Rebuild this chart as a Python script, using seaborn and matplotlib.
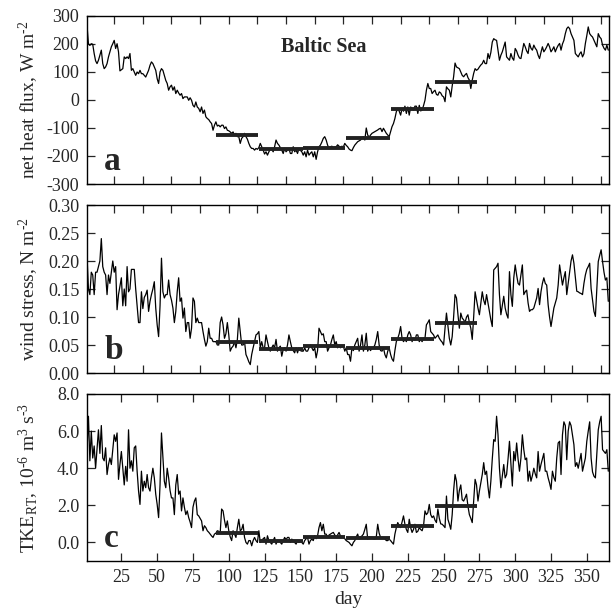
import numpy as np
import pandas as pd
import matplotlib
matplotlib.use("Agg")
import matplotlib.pyplot as plt
import seaborn as sns

# ---------------- data ----------------
days = list(range(1, 366))

heat_flux = [
    267, 201, 195, 201, 199, 166, 140, 130, 142, 160,
    178, 130, 112, 118, 130, 154, 172, 190, 201, 213,
    184, 201, 172, 104, 108, 112, 154, 148, 154, 148,
    166, 106, 112, 100, 88, 100, 94, 106, 94, 94,
    88, 82, 94, 106, 124, 136, 130, 118, 106, 76,
    59, 100, 112, 106, 88, 70, 59, 35, 47, 53,
    35, 47, 23, 35, 25, 17, 23, 5, 11, 11,
    11, -1, 8, -1, -19, -25, -7, -25, -30, -42,
    -25, -48, -36, -60, -66, -70, -78, -84, -108, -90,
    -78, -93, -90, -96, -90, -90, -102, -96, -108, -110,
    -114, -119, -114, -125, -119, -131, -131, -155, -137, -131,
    -119, -131, -140, -155, -167, -173, -173, -179, -173, -176,
    -170, -155, -167, -179, -193, -185, -197, -185, -176, -176,
    -185, -167, -143, -155, -161, -170, -179, -191, -173, -185,
    -179, -173, -191, -191, -167, -185, -179, -191, -173, -180,
    -185, -197, -185, -203, -179, -197, -190, -185, -203, -185,
    -212, -185, -167, -161, -150, -137, -131, -143, -161, -173,
    -167, -165, -170, -168, -167, -160, -165, -170, -165, -168,
    -155, -162, -167, -175, -179, -181, -170, -161, -155, -149,
    -146, -143, -135, -131, -143, -100, -125, -133, -125, -119,
    -116, -113, -110, -107, -103, -101, -113, -101, -110, -119,
    -125, -131, -113, -95, -84, -66, -42, -30, -40, -54,
    -30, -40, -22, -48, -25, -54, -25, -30, -36, -22,
    -22, -48, -19, -39, -36, -20, -1, 35, 59, 41,
    41, 23, 30, 35, 20, 17, 29, 25, 15, 11,
    -6, 47, 40, 35, 11, 50, 83, 132, 118, 115,
    112, 100, 88, 83, 90, 95, 80, 71, 41, 71,
    95, 112, 106, 110, 118, 125, 130, 142, 130, 130,
    166, 148, 170, 207, 219, 215, 213, 178, 142, 160,
    172, 190, 207, 154, 148, 142, 166, 150, 142, 184,
    175, 160, 150, 148, 175, 202, 190, 175, 166, 202,
    185, 178, 196, 185, 178, 160, 148, 170, 190, 172,
    180, 190, 202, 190, 172, 180, 190, 172, 185, 195,
    202, 178, 200, 213, 237, 255, 261, 255, 237, 225,
    213, 166, 160, 154, 165, 172, 154, 165, 202, 230,
    261, 237, 230, 225, 213, 200, 190, 237, 225, 219,
    196, 185, 178, 196, 178,
]

wind_stress = [
    0.21, 0.15, 0.14, 0.18, 0.175, 0.14, 0.18, 0.18, 0.19, 0.20,
    0.24, 0.19, 0.18, 0.175, 0.14, 0.175, 0.16, 0.18, 0.20, 0.18,
    0.19, 0.113, 0.14, 0.155, 0.17, 0.12, 0.15, 0.12, 0.19, 0.145,
    0.15, 0.185, 0.185, 0.185, 0.15, 0.12, 0.09, 0.09, 0.145, 0.115,
    0.135, 0.14, 0.148, 0.11, 0.128, 0.14, 0.15, 0.163, 0.116, 0.086,
    0.065, 0.12, 0.205, 0.145, 0.134, 0.14, 0.14, 0.166, 0.14, 0.13,
    0.116, 0.09, 0.11, 0.145, 0.17, 0.128, 0.134, 0.098, 0.116, 0.074,
    0.09, 0.09, 0.062, 0.08, 0.134, 0.128, 0.09, 0.098, 0.09, 0.09,
    0.09, 0.074, 0.06, 0.048, 0.056, 0.08, 0.062, 0.062, 0.056, 0.056,
    0.056, 0.05, 0.05, 0.09, 0.10, 0.086, 0.062, 0.07, 0.09, 0.068,
    0.039, 0.045, 0.048, 0.056, 0.045, 0.06, 0.098, 0.074, 0.05, 0.05,
    0.056, 0.033, 0.027, 0.02, 0.015, 0.033, 0.045, 0.056, 0.068, 0.07,
    0.074, 0.045, 0.056, 0.045, 0.045, 0.068, 0.056, 0.045, 0.039, 0.045,
    0.05, 0.045, 0.06, 0.039, 0.045, 0.048, 0.03, 0.042, 0.045, 0.039,
    0.05, 0.068, 0.056, 0.045, 0.04, 0.036, 0.045, 0.036, 0.045, 0.04,
    0.039, 0.039, 0.045, 0.039, 0.039, 0.045, 0.05, 0.045, 0.04, 0.045,
    0.027, 0.04, 0.08, 0.074, 0.068, 0.07, 0.056, 0.056, 0.039, 0.045,
    0.05, 0.06, 0.068, 0.05, 0.056, 0.045, 0.05, 0.045, 0.048, 0.048,
    0.039, 0.045, 0.033, 0.033, 0.021, 0.045, 0.04, 0.05, 0.056, 0.062,
    0.039, 0.05, 0.068, 0.039, 0.05, 0.071, 0.039, 0.045, 0.04, 0.045,
    0.045, 0.05, 0.06, 0.074, 0.05, 0.04, 0.039, 0.045, 0.033, 0.027,
    0.039, 0.045, 0.033, 0.025, 0.021, 0.04, 0.056, 0.062, 0.07, 0.083,
    0.062, 0.056, 0.06, 0.056, 0.068, 0.074, 0.068, 0.056, 0.062, 0.058,
    0.068, 0.068, 0.056, 0.06, 0.056, 0.062, 0.062, 0.086, 0.09, 0.095,
    0.074, 0.071, 0.068, 0.062, 0.065, 0.068, 0.062, 0.058, 0.055, 0.05,
    0.08, 0.107, 0.085, 0.062, 0.05, 0.065, 0.1, 0.14, 0.134, 0.105,
    0.08, 0.107, 0.098, 0.095, 0.09, 0.1, 0.104, 0.09, 0.08, 0.06,
    0.1, 0.145, 0.13, 0.116, 0.104, 0.125, 0.145, 0.13, 0.122, 0.14,
    0.125, 0.11, 0.095, 0.083, 0.184, 0.187, 0.19, 0.196, 0.14, 0.104,
    0.12, 0.137, 0.116, 0.105, 0.098, 0.181, 0.14, 0.119, 0.17, 0.193,
    0.175, 0.16, 0.157, 0.175, 0.193, 0.14, 0.145, 0.148, 0.125, 0.11,
    0.113, 0.113, 0.116, 0.125, 0.134, 0.151, 0.122, 0.145, 0.16, 0.17,
    0.16, 0.157, 0.122, 0.1, 0.083, 0.1, 0.116, 0.125, 0.134, 0.157,
    0.193, 0.175, 0.157, 0.17, 0.181, 0.14, 0.16, 0.181, 0.2, 0.211,
    0.196, 0.17, 0.146, 0.145, 0.143, 0.142, 0.14, 0.16, 0.175, 0.185,
    0.19, 0.196, 0.151, 0.13, 0.11, 0.101, 0.15, 0.199, 0.21, 0.22,
    0.199, 0.18, 0.166, 0.17, 0.128,
]

tke = [
    4.9, 6.8, 4.4, 6.0, 4.55, 5.2, 4.0, 5.0, 6.07, 4.8,
    6.3, 4.55, 4.4, 5.1, 3.66, 4.2, 4.55, 4.2, 5.0, 5.8,
    5.45, 5.9, 3.4, 4.2, 4.9, 4.0, 3.1, 4.1, 3.3, 6.07,
    4.0, 4.4, 3.84, 5.1, 5.2, 3.84, 2.77, 2.05, 3.84, 2.77,
    3.3, 2.95, 3.66, 2.95, 2.77, 3.48, 4.0, 3.48, 2.6, 2.05,
    1.34, 3.1, 5.9, 4.55, 3.3, 2.95, 4.0, 3.48, 2.8, 2.4,
    2.4, 1.5, 3.1, 3.66, 2.6, 2.77, 1.7, 2.4, 1.9, 1.5,
    1.7, 1.34, 1.1, 0.8, 1.9, 2.23, 2.4, 1.5, 1.43, 1.3,
    1.16, 0.63, 0.9, 0.8, 0.63, 0.55, 0.45, 0.35, 0.27, 0.45,
    0.5, 0.63, 0.6, 0.5, 1.8, 1.7, 1.2, 0.8, 1.16, 0.63,
    0.3, 0.1, 0.63, 0.45, 0.27, 0.8, 1.25, 0.63, 0.7, 0.98,
    0.27, 0.0, -0.09, 0.1, 0.1, -0.18, 0.1, 0.27, 0.1, 0.0,
    0.63, 0.0, 0.1, 0.2, 0.27, -0.09, 0.36, 0.1, 0.0, -0.09,
    0.1, 0.27, -0.09, 0.1, 0.1, 0.0, -0.09, 0.1, 0.27, 0.15,
    0.27, 0.27, 0.0, 0.18, 0.1, 0.0, -0.09, 0.1, 0.0, 0.05,
    0.0, -0.09, 0.1, 0.2, 0.27, -0.09, 0.1, 0.18, 0.1, 0.36,
    0.2, 0.36, 0.8, 1.07, 0.63, 0.98, 0.45, 0.45, 0.27, 0.4,
    0.45, 0.5, 0.54, 0.4, 0.27, 0.4, 0.54, 0.35, 0.3, 0.27,
    0.2, 0.1, 0.05, 0.0, -0.1, -0.18, 0.0, 0.1, 0.3, 0.45,
    0.18, 0.3, 0.35, 0.45, 0.7, 0.98, 0.18, 0.3, 0.27, 0.27,
    0.2, 0.18, 0.3, 0.98, 0.5, 0.27, 0.27, 0.27, 0.2, 0.1,
    0.1, 0.18, 0.1, 0.0, -0.09, 0.45, 0.8, 1.07, 0.9, 0.8,
    1.1, 1.43, 0.98, 0.7, 0.54, 1.25, 0.8, 0.54, 0.7, 0.98,
    0.54, 0.6, 0.8, 0.7, 0.63, 0.9, 1.7, 1.5, 1.6, 2.05,
    1.5, 1.34, 1.43, 1.2, 1.07, 1.8, 1.3, 1.0, 0.98, 0.9,
    0.8, 2.5, 1.25, 1.0, 0.71, 1.5, 2.8, 3.66, 3.3, 2.23,
    2.8, 3.1, 2.3, 2.23, 2.4, 2.6, 1.96, 1.5, 1.3, 1.07,
    2.23, 3.4, 3.1, 2.23, 2.77, 3.2, 3.66, 4.3, 3.66, 3.84,
    3.0, 2.4, 3.3, 4.5, 5.54, 5.45, 6.8, 5.8, 4.0, 2.95,
    3.6, 4.2, 3.48, 3.66, 4.5, 5.45, 4.2, 3.04, 4.9, 4.4,
    5.36, 4.5, 3.84, 4.55, 5.8, 5.0, 4.46, 4.55, 3.3, 3.84,
    3.3, 3.6, 4.0, 3.7, 3.48, 4.9, 3.84, 4.2, 4.5, 4.8,
    3.84, 3.84, 3.48, 3.2, 2.86, 3.84, 3.5, 3.3, 4.55, 5.36,
    5.45, 3.66, 5.8, 6.5, 6.3, 4.46, 6.0, 6.5, 6.3, 5.8,
    5.27, 4.1, 4.3, 4.0, 4.4, 4.8, 3.84, 4.2, 4.55, 5.45,
    6.0, 6.5, 4.55, 3.8, 3.57, 3.48, 4.8, 6.07, 6.5, 6.8,
    5.0, 4.9, 4.8, 5.0, 3.84,
]

# monthly means (April .. September)
month_start = [91, 121, 152, 182, 213, 244]
month_end = [120.5, 151.5, 181, 212.5, 243.5, 273.5]
heat_mean = [-125, -176, -170, -134, -33, 63]
wind_mean = [0.056, 0.042, 0.048, 0.044, 0.061, 0.089]
tke_mean = [0.50, 0.09, 0.27, 0.26, 0.89, 1.96]

heat_ticks = [-300, -200, -100, 0, 100, 200, 300]
wind_ticks = [0.00, 0.05, 0.10, 0.15, 0.20, 0.25, 0.30]
tke_ticks = [0.0, 2.0, 4.0, 6.0, 8.0]
day_ticks_ab = list(range(20, 361, 20))
day_ticks_c = list(range(25, 351, 25))

# ---------------- style ----------------
sns.set_theme(style="ticks")
plt.rcParams["font.family"] = ["Liberation Serif", "DejaVu Serif"]
plt.rcParams["mathtext.fontset"] = "custom"
plt.rcParams["mathtext.rm"] = "Liberation Serif"
plt.rcParams["mathtext.it"] = "Liberation Serif:italic"
plt.rcParams["mathtext.bf"] = "Liberation Serif:bold"
plt.rcParams["axes.unicode_minus"] = False

df = pd.DataFrame({"day": days, "heat": heat_flux, "wind": wind_stress, "tke": tke})

fig = plt.figure(figsize=(6.13, 6.13), dpi=100)
L, W = 87 / 613, 522 / 613
axa = fig.add_axes([L, 1 - 184 / 613, W, 168 / 613])
axb = fig.add_axes([L, 1 - 373 / 613, W, 168 / 613])
axc = fig.add_axes([L, 1 - 561 / 613, W, 167 / 613])

specs = [
    (axa, "heat", heat_mean, heat_ticks, (-300, 300),
     r"net heat flux, W m$^{\text{-}2}$", "a", "%d"),
    (axb, "wind", wind_mean, wind_ticks, (0.0, 0.30),
     r"wind stress, N m$^{\text{-}2}$", "b", "%.2f"),
    (axc, "tke", tke_mean, tke_ticks, (-1.0, 8.0),
     r"TKE$_{\rm RT}$, 10$^{\text{-}6}$ m$^3$ s$^{\text{-}3}$", "c", "%.1f"),
]

for ax, col, means, yt, ylim, ylab, letter, fmt in specs:
    sns.lineplot(data=df, x="day", y=col, ax=ax, color="black", linewidth=0.9,
                 estimator=None, legend=False)
    ax.hlines(means, month_start, month_end, colors="#222222", linewidth=2.8, zorder=3)
    ax.set_xlim(1, 365.5)
    ax.set_ylim(*ylim)
    ax.set_yticks(yt)
    ax.set_yticklabels([fmt % v for v in yt])
    ax.set_ylabel(ylab, fontsize=14)
    ax.tick_params(direction="in", top=True, right=True, length=5.5, width=0.9,
                   labelsize=13, pad=5.5)
    for s in ax.spines.values():
        s.set_linewidth(1.0)
        s.set_color("black")
    ax.text(0.033, 0.085, letter, transform=ax.transAxes, fontsize=24,
            fontweight="bold", va="baseline", ha="left")

for ax in (axa, axb):
    ax.set_xticks(day_ticks_ab)
    ax.set_xticklabels([])
    ax.set_xlabel("")

axc.set_xticks(day_ticks_c)
axc.set_xticklabels([str(d) for d in day_ticks_c])
axc.set_xlabel("day", fontsize=14, labelpad=4)

axa.text(0.453, 0.786, "Baltic Sea", transform=axa.transAxes, fontsize=14.5,
         fontweight="bold", ha="center", va="baseline")

# align y-labels
for ax in (axa, axb, axc):
    ax.yaxis.set_label_coords(-0.088, 0.5)

fig.savefig("out.png", dpi=100)
